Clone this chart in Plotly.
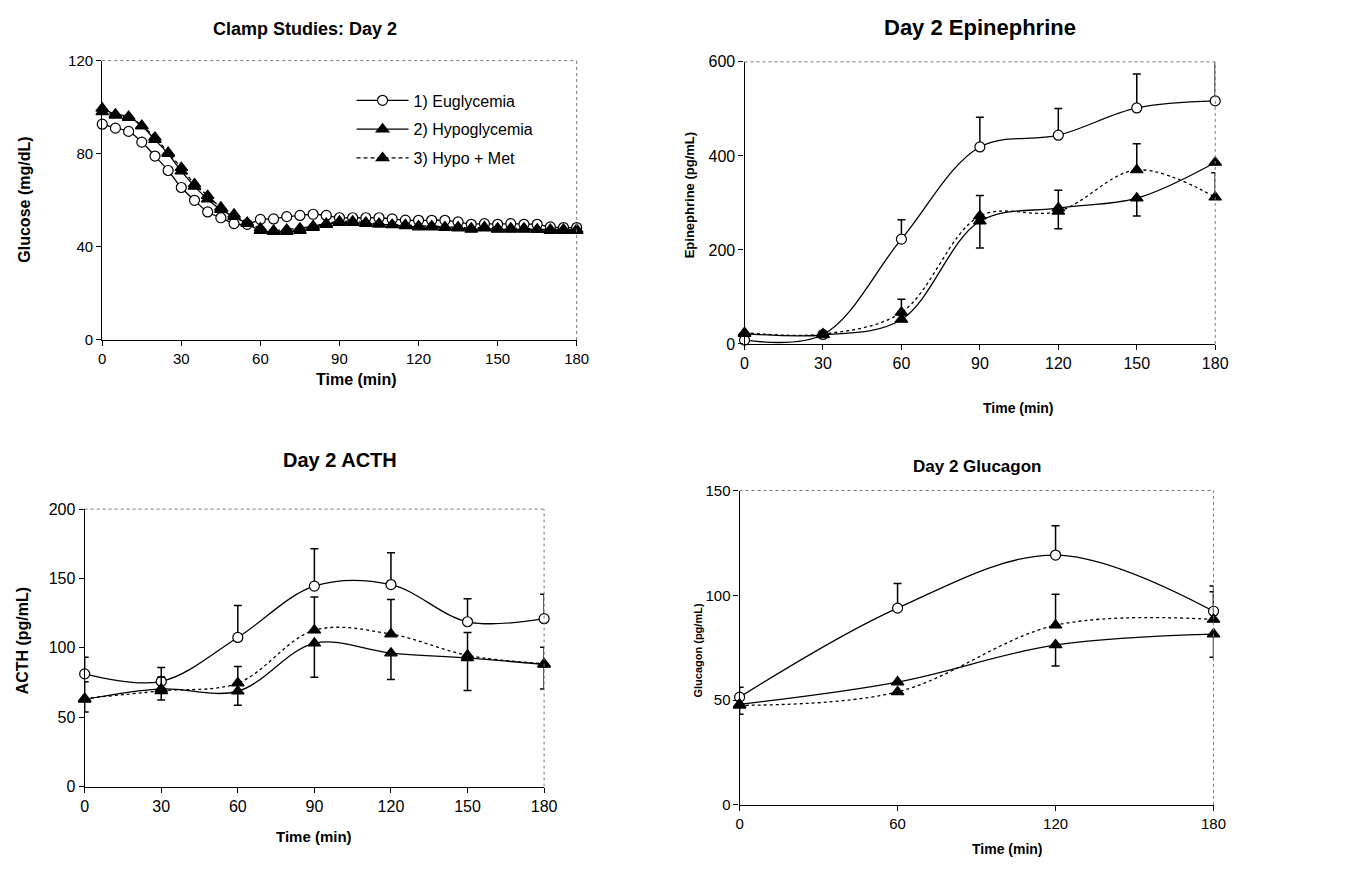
import plotly.graph_objects as go

W, H = 1347, 869
FONT = "Arial, Liberation Sans, sans-serif"

# ---------------- data ----------------
t_glu = list(range(0, 181, 5))
glu_eu = [92.7, 91, 89.6, 85, 79, 72.8, 65.5, 60, 55, 52.5, 50, 49.7, 51.8, 52, 53, 53.5, 54, 53.5,
          52.5, 52.5, 52.5, 52.5, 52, 51.5, 51.4, 51.4, 51.4, 50.7, 49.7, 50, 49.7, 50, 49.7, 49.7,
          48.6, 48.3, 48.3]
glu_hypo = [99.5, 97, 96, 92, 86, 80, 72.5, 66, 60.5, 56, 53, 50, 47, 46.5, 46.5, 47, 48.3, 49.5,
            50.4, 50.4, 50, 49.7, 49.4, 49, 48.5, 48.5, 48.3, 48, 47.5, 48, 47.5, 47.5, 47.5, 47.5,
            47, 47, 47]
glu_met = [98, 96.5, 95.5, 92, 87, 80.5, 74, 67, 62, 57, 54, 50.5, 48, 47, 47.5, 48, 49, 50,
           51, 51, 50.5, 50, 49.5, 49.5, 49, 49, 48.5, 48.5, 48, 48.5, 48, 48, 48, 47.5,
           47.5, 47.5, 47.5]

t_epi = [0, 30, 60, 90, 120, 150, 180]
epi_eu = [8, 20, 223, 419, 444, 502, 517]
epi_eu_up = [0, 0, 41, 63, 57, 72, 90]
epi_hypo = [22, 19, 52, 261, 289, 310, 386]
epi_hypo_dn = [0, 0, 0, 57, 44, 38, 0]
epi_met = [24, 21, 67, 272, 282, 370, 312]
epi_met_up = [0, 0, 28, 44, 45, 56, 52]

t_acth = [0, 30, 60, 90, 120, 150, 180]
acth_eu = [81.2, 75.8, 107.5, 144.5, 145.6, 118.8, 121]
acth_eu_up = [12, 10, 23, 27, 23, 16.5, 17.6]
acth_hypo = [62.8, 70.4, 68.7, 103.3, 96.2, 92.7, 88]
acth_hypo_dn = [9, 8, 10, 24.5, 19, 23.5, 17.6]
acth_met = [63.5, 69, 74.6, 112.7, 109.9, 94.6, 88.5]
acth_met_up = [12, 10, 12, 24, 25, 16.5, 12]

t_glc = [0, 60, 120, 180]
glc_eu = [51.4, 93.9, 119.2, 92.4]
glc_eu_up = [4.7, 11.7, 14, 12]
glc_hypo = [48, 58.6, 76.3, 81.5]
glc_hypo_dn = [4.7, 0, 10, 11]
glc_met = [47.5, 53.9, 85.7, 88.5]
glc_met_up = [0, 0, 14.8, 13.2]

names = ["1) Euglycemia", "2) Hypoglycemia", "3) Hypo + Met"]

# ---------------- figure ----------------
fig = go.Figure()

# panel domains in pixels: (left, right, top, bottom)
panels = {
    1: (99.5, 580, 52.7, 338),
    2: (750, 1226.7, 54, 342),
    3: (81.7, 547, 510.7, 794),
    4: (745, 1225, 491.7, 812.7),
}


def px_x(p):
    return p / W


def px_y(p):
    return 1 - p / H


def add_series(k, t, eu, hypo, met, eu_up=None, hypo_dn=None, met_up=None, msize=9,
               legend=False, met_dash="dot"):
    xa = "x" if k == 1 else f"x{k}"
    ya = "y" if k == 1 else f"y{k}"
    specs = [
        (eu, names[0], "circle", "white", "solid", eu_up, "up"),
        (hypo, names[1], "triangle-up", "black", "solid", hypo_dn, "down"),
        (met, names[2], "triangle-up", "black", met_dash, met_up, "up"),
    ]
    for gi, (vals, nm, sym, fillc, dash, err, direction) in enumerate(specs):
        ey = None
        if err is not None:
            if direction == "up":
                ey = dict(type="data", symmetric=False, array=err, arrayminus=[0] * len(err),
                          color="black", thickness=1.5, width=4)
            else:
                ey = dict(type="data", symmetric=False, array=[0] * len(err), arrayminus=err,
                          color="black", thickness=1.5, width=4)
        fig.add_trace(go.Scatter(
            x=t, y=vals, name=nm, mode="lines+markers", legendgroup=f"g{gi}",
            line=dict(color="black", width=1.3, dash=dash, shape="spline", smoothing=1.0),
            marker=dict(symbol=sym, size=msize if sym == "circle" else msize + 1,
                        color=fillc, line=dict(color="black", width=1.2)),
            error_y=ey, cliponaxis=False,
            showlegend=legend, xaxis=xa, yaxis=ya,
        ))


add_series(1, t_glu, glu_eu, glu_hypo, glu_met, msize=10, legend=True, met_dash="4px,3px")
add_series(2, t_epi, epi_eu, epi_hypo, epi_met, epi_eu_up, epi_hypo_dn, epi_met_up, msize=10)
add_series(3, t_acth, acth_eu, acth_hypo, acth_met, acth_eu_up, acth_hypo_dn, acth_met_up, msize=10)
add_series(4, t_glc, glc_eu, glc_hypo, glc_met, glc_eu_up, glc_hypo_dn, glc_met_up, msize=10)

axis_cfg = {
    1: dict(xr=[0, 180], xd=30, yr=[0, 120], yd=40, fs=15),
    2: dict(xr=[0, 180], xd=30, yr=[0, 600], yd=200, fs=16),
    3: dict(xr=[0, 180], xd=30, yr=[0, 200], yd=50, fs=16),
    4: dict(xr=[0, 180], xd=60, yr=[0, 150], yd=50, fs=15),
}

layout = dict(
    width=W, height=H, margin=dict(l=0, r=0, t=0, b=0),
    paper_bgcolor="white", plot_bgcolor="white",
    font=dict(family=FONT, color="black"),
    showlegend=True,
    legend=dict(x=px_x(352), y=px_y(76), xanchor="left", yanchor="top",
                bgcolor="rgba(0,0,0,0)", font=dict(size=16, family=FONT),
                itemwidth=52, tracegroupgap=5),
)

shapes = []
for k, (l, r, tp, bt) in panels.items():
    c = axis_cfg[k]
    sfx = "" if k == 1 else str(k)
    layout[f"xaxis{sfx}"] = dict(
        domain=[px_x(l), px_x(r)], range=c["xr"], dtick=c["xd"], tick0=0,
        anchor=f"y{sfx}", showgrid=False, zeroline=False,
        showline=True, linecolor="black", linewidth=1.2,
        ticks="outside", ticklen=5, tickcolor="black", tickwidth=1,
        tickfont=dict(size=c["fs"], family=FONT), fixedrange=True,
    )
    layout[f"yaxis{sfx}"] = dict(
        domain=[px_y(bt), px_y(tp)], range=c["yr"], dtick=c["yd"], tick0=0,
        anchor=f"x{sfx}", showgrid=False, zeroline=False,
        showline=True, linecolor="black", linewidth=1.2,
        ticks="outside", ticklen=5, tickcolor="black", tickwidth=1,
        tickfont=dict(size=c["fs"], family=FONT), fixedrange=True,
    )
    xref = f"x{sfx} domain"
    yref = f"y{sfx} domain"
    # dotted top and right border of the plot area
    shapes.append(dict(type="line", xref=xref, yref=yref, x0=0, x1=1, y0=1, y1=1,
                       line=dict(color="#777777", width=1, dash="dot")))
    shapes.append(dict(type="line", xref=xref, yref=yref, x0=1, x1=1, y0=0, y1=1,
                       line=dict(color="#777777", width=1, dash="dot")))

layout["shapes"] = shapes


def ann(text, x, y, size, angle=0, bold=True):
    return dict(text=f"<b>{text}</b>" if bold else text, x=px_x(x), y=px_y(y),
                xref="paper", yref="paper", xanchor="center", yanchor="middle",
                showarrow=False, textangle=angle, font=dict(size=size, family=FONT, color="black"))


annotations = [
    ann("Clamp Studies: Day 2", 305, 20, 18),
    ann("Day 2 Epinephrine", 988, 19, 22),
    ann("Day 2 ACTH", 340, 461, 20),
    ann("Day 2 Glucagon", 985, 467, 17),
    ann("Time (min)", 357, 378, 16),
    ann("Time (min)", 1027, 407, 14),
    ann("Time (min)", 314, 845, 15),
    ann("Time (min)", 1016, 858, 14),
    ann("Glucose (mg/dL)", 21, 195, 16, -90),
    ann("Epinephrine (pg/mL)", 694, 190, 13, -90),
    ann("ACTH (pg/mL)", 19, 645, 16, -90),
    ann("Glucagon (pg/mL)", 703, 655, 11, -90),
]
layout["annotations"] = annotations

fig.update_layout(**layout)
fig.write_html("out.html", config={"displayModeBar": False},
               post_script="document.body.style.margin='0';document.body.style.padding='0';")
